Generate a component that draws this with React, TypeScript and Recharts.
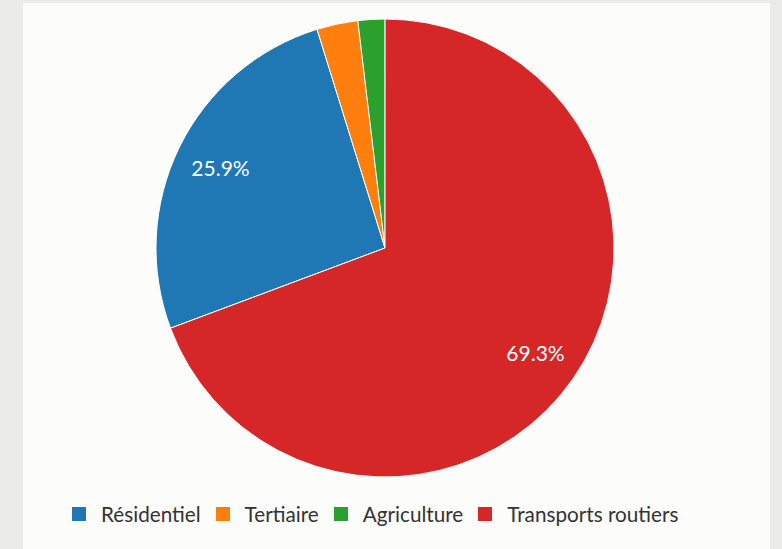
import React from 'react';
import { PieChart, Pie, Cell, Legend } from 'recharts';

const sectors = ['Résidentiel', 'Tertiaire', 'Agriculture', 'Transports routiers'];
const shares = [25.9, 2.9, 1.9, 69.3];
const colors = ['#1f77b4', '#ff7f0e', '#2ca02c', '#d62728'];

const data = sectors.map((name, i) => ({ name, value: shares[i] }));

const RADIAN = Math.PI / 180;

const renderLabel = (props: any) => {
  const { cx, cy, midAngle, outerRadius, value } = props;
  if (value < 5) return null;
  const r = outerRadius * 0.8;
  const x = cx + r * Math.cos(-midAngle * RADIAN);
  const y = cy + r * Math.sin(-midAngle * RADIAN);
  return (
    <text
      x={x}
      y={y}
      fill="#fff"
      textAnchor="middle"
      dominantBaseline="central"
      fontSize={21}
      fontFamily="Lato, sans-serif"
    >
      {value.toFixed(1)}%
    </text>
  );
};

const LegendContent = () => (
  <div
    style={{
      display: 'flex',
      alignItems: 'center',
      gap: 15,
      fontFamily: 'Lato, sans-serif',
      fontSize: 20.7,
      lineHeight: '24px',
      color: '#333',
      paddingLeft: 49,
    }}
  >
    {sectors.map((name, i) => (
      <div key={name} style={{ display: 'flex', alignItems: 'center' }}>
        <span
          style={{
            display: 'inline-block',
            width: 14,
            height: 14,
            background: colors[i],
            marginRight: 15,
          }}
        />
        <span>{name}</span>
      </div>
    ))}
  </div>
);

export default function App() {
  // blue slice starts at ~249.5deg clockwise from the top
  const start = 90 - 249.5;
  return (
    <div
      style={{
        position: 'absolute',
        left: 0,
        top: 0,
        width: 782,
        height: 549,
        background: '#ebebe9',
      }}
    >
      <div
        style={{
          position: 'absolute',
          left: 23,
          top: 3,
          width: 747,
          height: 546,
          background: '#fcfcfa',
        }}
      >
        <PieChart width={747} height={546} margin={{ top: 0, right: 0, bottom: 0, left: 0 }}>
          <Pie
            data={data}
            dataKey="value"
            nameKey="name"
            cx={362}
            cy={245}
            outerRadius={229}
            startAngle={start}
            endAngle={start - 360}
            stroke="#fff"
            strokeWidth={1}
            label={renderLabel}
            labelLine={false}
            isAnimationActive={false}
          >
            {data.map((d, i) => (
              <Cell key={d.name} fill={colors[i]} />
            ))}
          </Pie>
          <Legend
            content={<LegendContent />}
            wrapperStyle={{ position: 'absolute', left: 0, top: 499, width: 747 }}
          />
        </PieChart>
      </div>
    </div>
  );
}
